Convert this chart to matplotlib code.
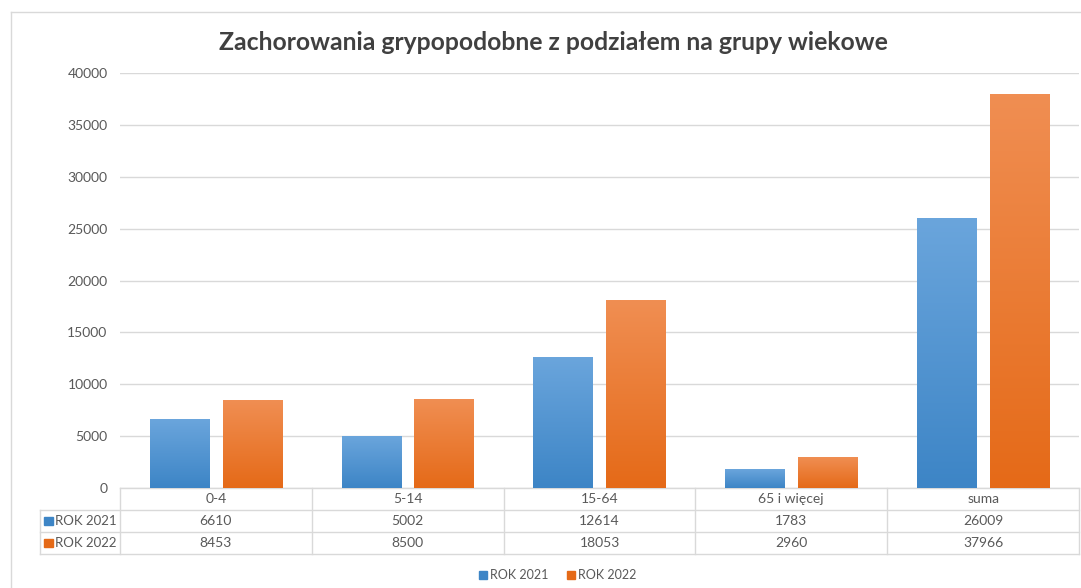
import numpy as np
import matplotlib
matplotlib.use('Agg')
from matplotlib import pyplot as plt
from matplotlib.lines import Line2D
from matplotlib.patches import Rectangle

plt.rcParams['font.family'] = ['Lato', 'DejaVu Sans']

categories = ['0-4', '5-14', '15-64', '65 i więcej', 'suma']
series_names = ['ROK 2021', 'ROK 2022']
rok_2021 = [6610, 5002, 12614, 1783, 26009]
rok_2022 = [8453, 8500, 18053, 2960, 37966]
yticks = [0, 5000, 10000, 15000, 20000, 25000, 30000, 35000, 40000]

BLUE_TOP, BLUE_BOT = '#6aa5dc', '#3d85c6'
ORANGE_TOP, ORANGE_BOT = '#f08e52', '#e56a18'
GRID = '#d9d9d9'
TEXT = '#595959'

W, H = 1081, 588
fig = plt.figure(figsize=(W / 100, H / 100), dpi=100)
ax = fig.add_axes([120 / W, 1 - 488 / H, 959 / W, 415 / H])

x = np.arange(len(categories))
bw = 0.31
offs = [-0.19, 0.19]


def grad_bar(ax, xc, h, top, bot):
    c1 = np.array(matplotlib.colors.to_rgb(top))
    c2 = np.array(matplotlib.colors.to_rgb(bot))
    t = np.linspace(0, 1, 64)[:, None]
    img = (c1 * (1 - t) + c2 * t)[:, None, :]
    ax.imshow(img, extent=(xc - bw / 2, xc + bw / 2, 0, h), aspect='auto',
              origin='upper', zorder=3, interpolation='bilinear')


for i in range(len(categories)):
    grad_bar(ax, x[i] + offs[0], rok_2021[i], BLUE_TOP, BLUE_BOT)
    grad_bar(ax, x[i] + offs[1], rok_2022[i], ORANGE_TOP, ORANGE_BOT)

ax.set_xlim(-0.5, len(categories) - 0.5)
ax.set_ylim(0, 40000)
ax.set_yticks(yticks)
ax.set_yticklabels([str(v) for v in yticks], color=TEXT, fontsize=10)
ax.tick_params(axis='y', length=0, pad=9)
ax.set_xticks([])
for s in ax.spines.values():
    s.set_visible(False)
ax.yaxis.grid(True, color=GRID, lw=1)
ax.set_axisbelow(True)

# data table under the axes
tr = ax.get_xaxis_transform()
row_h = 22 / 415
n = len(categories)
label_left = -0.5 - 80 / 192
for k in range(4):
    y = -k * row_h
    xs = -0.5 if k == 0 else label_left
    ax.add_line(Line2D([xs, n - 0.5], [y, y], transform=tr, color=GRID,
                       lw=1, clip_on=False))
for b in range(n + 1):
    ax.add_line(Line2D([b - 0.5, b - 0.5], [0, -3 * row_h], transform=tr,
                       color=GRID, lw=1, clip_on=False))
ax.add_line(Line2D([label_left, label_left], [-row_h, -3 * row_h],
                   transform=tr, color=GRID, lw=1, clip_on=False))

for i, c in enumerate(categories):
    ax.text(x[i], -0.5 * row_h, c, transform=tr, ha='center', va='center',
            fontsize=10, color=TEXT)
    ax.text(x[i], -1.5 * row_h, str(rok_2021[i]), transform=tr,
            ha='center', va='center', fontsize=10, color=TEXT)
    ax.text(x[i], -2.5 * row_h, str(rok_2022[i]), transform=tr,
            ha='center', va='center', fontsize=10, color=TEXT)

for r, (name, col) in enumerate(zip(series_names, [BLUE_BOT, ORANGE_BOT])):
    yc = -(1.5 + r) * row_h
    ax.add_patch(Rectangle((label_left + 0.021, yc - 0.2 * row_h), 0.045,
                           0.4 * row_h, transform=tr, color=col,
                           clip_on=False))
    ax.text(label_left + 0.08, yc, name, transform=tr, ha='left',
            va='center', fontsize=9.5, color=TEXT)

# title
fig.text(553 / W, 1 - 42 / H,
         'Zachorowania grypopodobne z podziałem na grupy wiekowe',
         ha='center', va='center', fontsize=17.8, fontweight='bold',
         color='#404040')

# legend
leg_y = 1 - 575 / H
for name, col, lx in zip(series_names, [BLUE_BOT, ORANGE_BOT], [479, 567]):
    fig.patches.append(Rectangle((lx / W, leg_y - 4 / H), 8 / W, 8 / H,
                                 transform=fig.transFigure, color=col))
    fig.text((lx + 11) / W, leg_y, name, ha='left', va='center',
             fontsize=9, color=TEXT)

# outer frame
fig.add_artist(Line2D([11 / W, 11 / W], [0, 1 - 12 / H],
                      transform=fig.transFigure, color=GRID, lw=1))
fig.add_artist(Line2D([11 / W, 1], [1 - 12 / H, 1 - 12 / H],
                      transform=fig.transFigure, color=GRID, lw=1))

fig.savefig('out.png', dpi=100)
